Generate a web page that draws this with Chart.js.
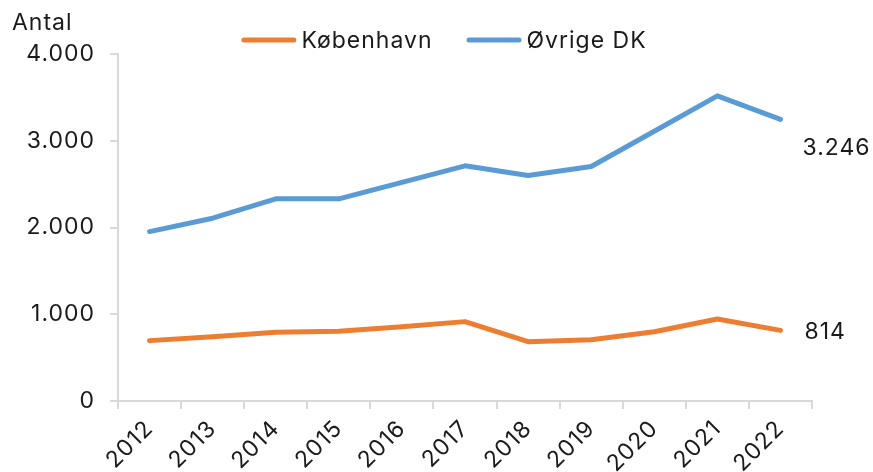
<!DOCTYPE html>
<html><head><meta charset="utf-8">
<script src="https://cdn.jsdelivr.net/npm/chart.js@4"></script>
<style>html,body{margin:0;padding:0;background:#fff;overflow:hidden}</style>
</head><body>
<canvas id="c" width="873" height="472" style="width:873px;height:472px;display:block"></canvas>
<script>
const categories = ['2012','2013','2014','2015','2016','2017','2018','2019','2020','2021','2022'];
const kobenhavn = [696, 742, 792, 804, 857, 915, 684, 707, 799, 946, 814];
const ovrigeDK = [1953, 2107, 2330, 2330, 2520, 2711, 2599, 2703, 3110, 3518, 3246];
const seriesNames = ['København', 'Øvrige DK'];
const yTicks = [0, 1000, 2000, 3000, 4000];
const yUnit = 'Antal';

const FONT = 'Inter, "DejaVu Sans", sans-serif';
const TXT = '#1a1a1a';
const AXIS = '#d9d9d9';
const SPACING = '1px';
function fmt(n){ return String(Math.round(n)).replace(/\B(?=(\d{3})+(?!\d))/g, '.'); }

const overlay = {
  id: 'overlay',
  beforeLayout(chart){ chart.ctx.letterSpacing = SPACING; },
  beforeDraw(chart){ chart.ctx.letterSpacing = SPACING; },
  afterDraw(chart){
    const ctx = chart.ctx;
    ctx.save();
    ctx.letterSpacing = SPACING;
    ctx.font = '23px ' + FONT;
    ctx.fillStyle = TXT;
    ctx.textAlign = 'left';
    ctx.textBaseline = 'alphabetic';
    ctx.fillText(yUnit, 12, 30);
    // legend
    const items = chart.data.datasets.map(ds => ({ds, w: ctx.measureText(ds.label).width}));
    const lineW = 55, gapT = 5, gapI = 34;
    let total = 0;
    items.forEach((it, i) => { total += lineW + gapT + it.w + (i ? gapI : 0); });
    let x = 444 - total / 2;
    const ly = 40;
    items.forEach(it => {
      ctx.strokeStyle = it.ds.borderColor;
      ctx.lineWidth = 5;
      ctx.lineCap = 'round';
      ctx.beginPath(); ctx.moveTo(x + 2.5, ly); ctx.lineTo(x + lineW - 2.5, ly); ctx.stroke();
      ctx.fillText(it.ds.label, x + lineW + gapT, ly + 8);
      x += lineW + gapT + it.w + gapI;
    });
    // end labels
    const offs = [[24, 9], [22, 36]];
    chart.data.datasets.forEach((ds, i) => {
      const meta = chart.getDatasetMeta(i);
      const last = meta.data.length - 1;
      const p = meta.data[last];
      ctx.fillText(fmt(ds.data[last]), p.x + offs[i][0], p.y + offs[i][1]);
    });
    ctx.restore();
  }
};

new Chart(document.getElementById('c'), {
  type: 'line',
  data: {
    labels: categories,
    datasets: [
      { label: seriesNames[0], data: kobenhavn, borderColor: '#ED7D31', backgroundColor: '#ED7D31' },
      { label: seriesNames[1], data: ovrigeDK, borderColor: '#5B9BD5', backgroundColor: '#5B9BD5' }
    ]
  },
  options: {
    responsive: false,
    animation: false,
    devicePixelRatio: 1,
    layout: { padding: { top: 54, left: 0, right: 61, bottom: 0 } },
    elements: {
      line: { borderWidth: 5, tension: 0, borderCapStyle: 'round', borderJoinStyle: 'round', fill: false },
      point: { radius: 0, hoverRadius: 0 }
    },
    plugins: { legend: { display: false }, tooltip: { enabled: false }, title: { display: false } },
    scales: {
      x: {
        offset: true,
        grid: { offset: true, drawOnChartArea: false, drawTicks: true, tickLength: 8, color: AXIS, lineWidth: 2 },
        border: { color: AXIS, width: 2 },
        ticks: { color: TXT, font: { family: FONT, size: 23 }, maxRotation: 45, minRotation: 45, autoSkip: false, padding: 6 },
        afterFit(s){ s.height = 71; }
      },
      y: {
        min: 0, max: 4000,
        afterBuildTicks(s){ s.ticks = yTicks.map(v => ({value: v})); },
        grid: { drawOnChartArea: false, drawTicks: true, tickLength: 8, color: AXIS, lineWidth: 2 },
        border: { color: AXIS, width: 2 },
        ticks: { color: TXT, font: { family: FONT, size: 23 }, padding: 15, callback: v => fmt(v) },
        afterFit(s){ s.width = 118; }
      }
    }
  },
  plugins: [overlay]
});
</script>
</body></html>
